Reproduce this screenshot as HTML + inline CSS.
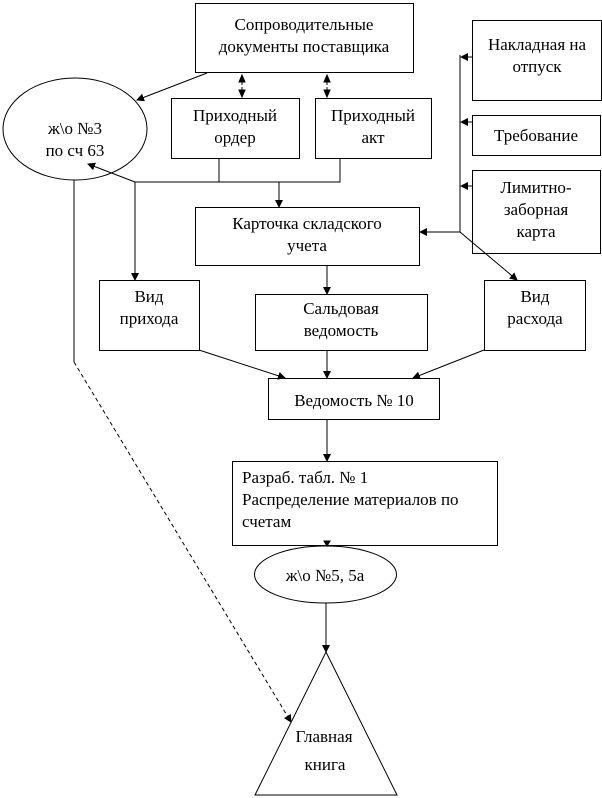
<!DOCTYPE html>
<html><head><meta charset="utf-8"><style>body{margin:0;background:#fff}svg{display:block}text{font-family:"Liberation Serif","Times New Roman","DejaVu Serif",serif;font-size:17px;fill:#000}</style></head><body>
<svg width="602" height="798" viewBox="0 0 602 798" font-family="Liberation Serif, Times New Roman, serif">
<defs><marker id="a" markerWidth="8" markerHeight="8" refX="7" refY="4" orient="auto" markerUnits="userSpaceOnUse"><path d="M0,0 L8,4 L0,8 z" fill="#000"/></marker></defs>
<g fill="#fff" stroke="#000" stroke-width="1">
<rect x="195.5" y="3.5" width="218" height="69"/>
<ellipse cx="75" cy="129" rx="72" ry="51"/>
<rect x="171.5" y="98.5" width="128" height="60"/>
<rect x="315.5" y="98.5" width="116" height="60"/>
<rect x="472.5" y="20.5" width="129" height="80"/>
<rect x="472.5" y="115.5" width="128" height="40"/>
<rect x="472.5" y="170.5" width="128" height="83"/>
<rect x="195.5" y="207.5" width="224" height="58"/>
<rect x="99.5" y="280.5" width="100" height="70"/>
<rect x="255.5" y="294.5" width="172" height="56"/>
<rect x="484.5" y="280.5" width="101" height="70"/>
<rect x="268.5" y="378.5" width="171" height="41"/>
<rect x="232.5" y="461.5" width="265" height="84"/>
<ellipse cx="325.5" cy="574.5" rx="71" ry="28.5"/>
<path d="M326,652 L397,795 L255,795 Z"/>
</g>
<g stroke="#000" stroke-width="1" fill="none">
<line x1="207" y1="73" x2="137" y2="100" marker-end="url(#a)"/>
<line x1="242" y1="82" x2="242" y2="90" stroke-dasharray="3,2"/>
<path d="M242,75 l-3,7 h6z M242,97 l-3,-7 h6z" fill="#000"/>
<line x1="327" y1="82" x2="327" y2="90" stroke-dasharray="3,2"/>
<path d="M327,75 l-3,7 h6z M327,97 l-3,-7 h6z" fill="#000"/>
<polyline points="219,158 219,182"/>
<polyline points="340,158 340,182 135,182"/>
<line x1="135" y1="182" x2="88" y2="164" marker-end="url(#a)"/>
<line x1="279" y1="182" x2="279" y2="207" marker-end="url(#a)"/>
<line x1="135" y1="182" x2="135" y2="280" marker-end="url(#a)"/>
<line x1="460" y1="55" x2="460" y2="232"/>
<line x1="472" y1="57" x2="461" y2="57" marker-end="url(#a)"/>
<line x1="472" y1="122" x2="461" y2="122" marker-end="url(#a)"/>
<line x1="472" y1="186" x2="461" y2="186" marker-end="url(#a)"/>
<line x1="460" y1="232" x2="420" y2="232" marker-end="url(#a)"/>
<line x1="460" y1="232" x2="517" y2="280" marker-end="url(#a)"/>
<line x1="327" y1="265" x2="327" y2="294" marker-end="url(#a)"/>
<line x1="199" y1="350" x2="285" y2="378" marker-end="url(#a)"/>
<line x1="327" y1="350" x2="327" y2="378" marker-end="url(#a)"/>
<line x1="484" y1="350" x2="413" y2="378" marker-end="url(#a)"/>
<line x1="327" y1="419" x2="327" y2="461" marker-end="url(#a)"/>
<path d="M327,546 l-3,-5 h6z" fill="#000"/>
<line x1="326" y1="603" x2="326" y2="652" marker-end="url(#a)"/>
<line x1="74" y1="180" x2="74" y2="362"/>
<line x1="74" y1="362" x2="291" y2="722" stroke-dasharray="4,3" marker-end="url(#a)"/>
</g>
<g text-anchor="middle">
<text x="304" y="30">Сопроводительные</text><text x="304" y="52">документы поставщика</text>
<text x="75" y="134">ж\о №3</text><text x="75" y="156">по сч 63</text>
<text x="235" y="121">Приходный</text><text x="235" y="143">ордер</text>
<text x="373" y="121">Приходный</text><text x="373" y="143">акт</text>
<text x="537" y="50">Накладная на</text><text x="537" y="72">отпуск</text>
<text x="536" y="141">Требование</text>
<text x="536" y="193">Лимитно-</text><text x="536" y="215">заборная</text><text x="536" y="237">карта</text>
<text x="307" y="229">Карточка складского</text><text x="307" y="251">учета</text>
<text x="149" y="302">Вид</text><text x="149" y="324">прихода</text>
<text x="341" y="314">Сальдовая</text><text x="341" y="336">ведомость</text>
<text x="535" y="302">Вид</text><text x="535" y="324">расхода</text>
<text x="354" y="406">Ведомость № 10</text>
<text x="325" y="581">ж\о №5, 5а</text>
<text x="324" y="742">Главная</text><text x="325" y="770">книга</text>
</g>
<text x="242" y="483">Разраб. табл. № 1</text>
<text x="242" y="505">Распределение материалов по</text>
<text x="242" y="527">счетам</text>
</svg>
</body></html>
